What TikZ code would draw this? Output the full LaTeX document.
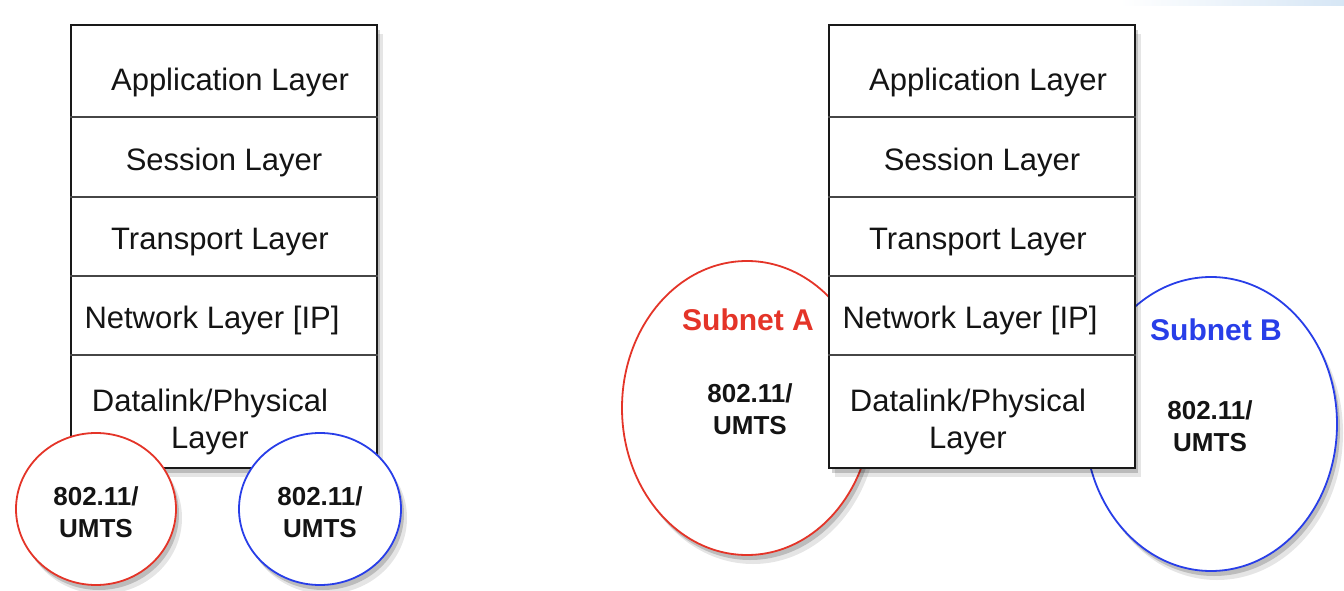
\documentclass[tikz,border=0pt]{standalone}
\usepackage{fontspec}
\setmainfont{Liberation Sans}
\usetikzlibrary{shapes.geometric,shadows}
\definecolor{netred}{RGB}{228,52,40}
\definecolor{netblue}{RGB}{40,62,232}
\definecolor{sepgray}{RGB}{70,70,70}
\definecolor{edgeblue}{RGB}{214,230,245}
\begin{document}
\begin{tikzpicture}[x=1pt,y=-1pt,
  shadowed/.style={
    drop shadow={opacity=0.10,fill=black,shadow xshift=6pt,shadow yshift=-9pt},
    drop shadow={opacity=0.18,fill=black,shadow xshift=3pt,shadow yshift=-5pt}},
  stack/.style={draw=black!90,line width=1.4pt,fill=white,inner sep=0pt,minimum width=306pt,minimum height=443pt,shadowed},
  sep/.style={draw=sepgray,line width=1.6pt},
  layertext/.style={inner sep=0pt,align=center,font=\fontsize{31}{37}\selectfont,text=black!92},
  net/.style={ellipse,line width=1.8pt,fill=white,inner sep=0pt,shadowed},
  nettext/.style={inner sep=0pt,align=center,font=\fontsize{26}{32}\selectfont\bfseries,text=black!92},
  subnettext/.style={inner sep=0pt,font=\fontsize{30}{36}\selectfont\bfseries}]
\useasboundingbox (0,0) rectangle (1344,591);
\shade[left color=white,right color=edgeblue] (1120,0) rectangle (1344,6);

% ---------- left stack ----------
\node[stack] (L) at (224,246.5) {};
\foreach \yy in {117,197,276,355}{
  \draw[sep] (L.west |- 0,\yy) -- (L.east |- 0,\yy);
}
\node[layertext] (La) at (230,82) {Application Layer};
\node[layertext] (Ls) at (224,162) {Session Layer};
\node[layertext] (Lt) at (220,242) {Transport Layer};
\node[layertext] (Ln) at (212,320) {Network Layer [IP]};
\node[layertext] (Ld) at (210,422) {Datalink/Physical\\Layer};

\node[net,draw=netred,minimum width=160pt,minimum height=152pt] (LA) at (96,509) {};
\node[nettext] (LAt) at (96,512) {802.11/\\UMTS};
\node[net,draw=netblue,minimum width=162pt,minimum height=152pt] (LB) at (320,509) {};
\node[nettext] (LBt) at (320,512) {802.11/\\UMTS};

% ---------- right stack ----------
\node[net,draw=netred,minimum width=250pt,minimum height=294pt] (RA) at (747,408) {};
\node[subnettext,text=netred] (RAn) at (748,320) {Subnet A};
\node[nettext] (RAt) at (750,409) {802.11/\\UMTS};
\node[net,draw=netblue,minimum width=252pt,minimum height=294pt] (RB) at (1211,424) {};
\node[subnettext,text=netblue] (RBn) at (1216,330) {Subnet B};
\node[nettext] (RBt) at (1210,426) {802.11/\\UMTS};

\node[stack] (R) at (982,246.5) {};
\foreach \yy in {117,197,276,355}{
  \draw[sep] (R.west |- 0,\yy) -- (R.east |- 0,\yy);
}
\node[layertext] (Ra) at (988,82) {Application Layer};
\node[layertext] (Rs) at (982,162) {Session Layer};
\node[layertext] (Rt) at (978,242) {Transport Layer};
\node[layertext] (Rn) at (970,320) {Network Layer [IP]};
\node[layertext] (Rd) at (968,422) {Datalink/Physical\\Layer};
\end{tikzpicture}
\end{document}
